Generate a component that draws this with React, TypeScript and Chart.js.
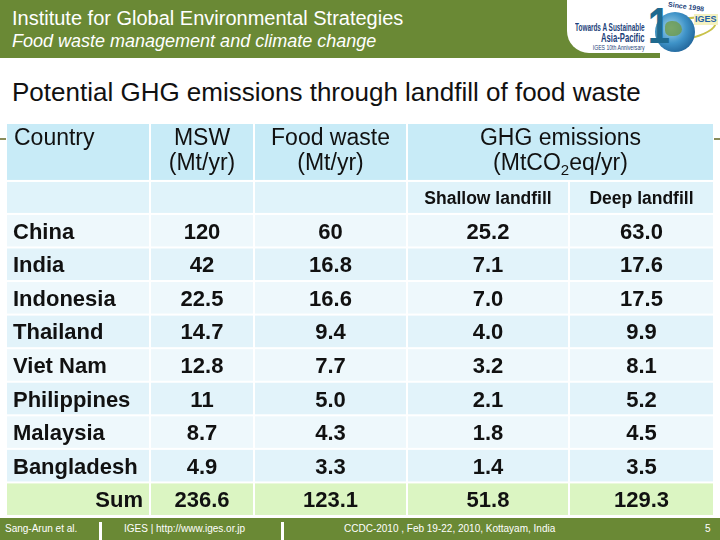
import React, { useEffect, useRef } from 'react';
import { Chart, registerables } from 'chart.js';

Chart.register(...registerables);

// ---- data ----
const countries = ['China', 'India', 'Indonesia', 'Thailand', 'Viet Nam', 'Philippines', 'Malaysia', 'Bangladesh'];
const msw = ['120', '42', '22.5', '14.7', '12.8', '11', '8.7', '4.9'];
const foodWaste = ['60', '16.8', '16.6', '9.4', '7.7', '5.0', '4.3', '3.3'];
const shallowLandfill = ['25.2', '7.1', '7.0', '4.0', '3.2', '2.1', '1.8', '1.4'];
const deepLandfill = ['63.0', '17.6', '17.5', '9.9', '8.1', '5.2', '4.5', '3.5'];
const sumLabel = 'Sum';
const sums = ['236.6', '123.1', '51.8', '129.3'];
const headerTop = ['Country', 'MSW', 'Food waste', 'GHG emissions'];
const headerUnits = ['', '(Mt/yr)', '(Mt/yr)', ''];
const subHeaders = ['', '', '', 'Shallow landfill', 'Deep landfill'];

// ---- layout (relative units) ----
const colWidths = [144, 104, 153, 162, 145];
const rowHeights = [58, 33, 33.6, 33.6, 33.6, 33.6, 33.6, 33.6, 33.6, 33.6, 33.6];

const FONT = "'Liberation Sans', Arial, sans-serif";
const GREEN = '#6a8935';

function cumulative(a: number[]) {
  const out = [0];
  a.forEach((v) => out.push(out[out.length - 1] + v));
  return out;
}

const tablePlugin = {
  id: 'tablePlugin',
  afterDraw(chart: any) {
    const { ctx } = chart;
    const xs = chart.scales.x;
    const ys = chart.scales.y;
    const ce = cumulative(colWidths);
    const re = cumulative(rowHeights);
    const X = (v: number) => xs.getPixelForValue(v);
    const Y = (v: number) => ys.getPixelForValue(v);
    const cell = (c0: number, c1: number, r: number, color: string) => {
      const l = X(ce[c0]) + 1;
      const rr = X(ce[c1]) - 1;
      const t = Y(re[r]) + 1;
      const b = Y(re[r + 1]) - 1;
      ctx.fillStyle = color;
      ctx.fillRect(l, t, rr - l, b - t);
    };
    const cx = (c0: number, c1: number) => (X(ce[c0]) + X(ce[c1])) / 2;
    const cy = (r: number) => (Y(re[r]) + Y(re[r + 1])) / 2;

    ctx.save();
    // header row 1
    cell(0, 1, 0, '#c8ebf7');
    cell(1, 2, 0, '#c8ebf7');
    cell(2, 3, 0, '#c8ebf7');
    cell(3, 5, 0, '#c8ebf7');
    // header row 2
    for (let c = 0; c < 5; c++) cell(c, c + 1, 1, '#e0f3fa');
    // data rows
    const cols = [msw, foodWaste, shallowLandfill, deepLandfill];
    countries.forEach((_, i) => {
      const color = i % 2 === 0 ? '#eef8fc' : '#e2f3fa';
      for (let c = 0; c < 5; c++) cell(c, c + 1, i + 2, color);
    });
    const sr = countries.length + 2;
    for (let c = 0; c < 5; c++) cell(c, c + 1, sr, '#dbf5c2');

    ctx.fillStyle = '#111';
    ctx.textBaseline = 'middle';
    // header texts
    const h0 = Y(re[0]);
    const h1 = Y(re[1]);
    const l1 = h0 + (h1 - h0) * 0.27;
    const l2 = h0 + (h1 - h0) * 0.71;
    const HF = `23px ${FONT}`;
    ctx.font = HF;
    ctx.textAlign = 'left';
    ctx.fillText(headerTop[0], X(ce[0]) + 8, l1);
    ctx.textAlign = 'center';
    ctx.fillText(headerTop[1], cx(1, 2), l1);
    ctx.fillText(headerUnits[1], cx(1, 2), l2);
    ctx.fillText(headerTop[2], cx(2, 3), l1);
    ctx.fillText(headerUnits[2], cx(2, 3), l2);
    ctx.fillText(headerTop[3], cx(3, 5), l1);
    // (MtCO2eq/yr) with subscript
    {
      const a = '(MtCO';
      const s = '2';
      const b = 'eq/yr)';
      ctx.font = HF;
      const wa = ctx.measureText(a).width;
      const wb = ctx.measureText(b).width;
      ctx.font = `15px ${FONT}`;
      const ws = ctx.measureText(s).width;
      const x0 = cx(3, 5) - (wa + ws + wb) / 2;
      ctx.textAlign = 'left';
      ctx.font = HF;
      ctx.fillText(a, x0, l2);
      ctx.font = `15px ${FONT}`;
      ctx.fillText(s, x0 + wa, l2 + 7);
      ctx.font = HF;
      ctx.fillText(b, x0 + wa + ws, l2);
    }
    // sub header
    ctx.font = `bold 17.5px ${FONT}`;
    ctx.textAlign = 'center';
    for (let c = 0; c < 5; c++) {
      if (subHeaders[c]) ctx.fillText(subHeaders[c], cx(c, c + 1), cy(1) + 2);
    }
    // data
    ctx.font = `bold 22px ${FONT}`;
    countries.forEach((name, i) => {
      const y = cy(i + 2) + 2;
      ctx.textAlign = 'left';
      ctx.fillText(name, X(ce[0]) + 7, y);
      ctx.textAlign = 'center';
      cols.forEach((col, c) => ctx.fillText(col[i], cx(c + 1, c + 2), y));
    });
    const ys2 = cy(sr) + 2;
    ctx.textAlign = 'right';
    ctx.fillText(sumLabel, X(ce[1]) - 7, ys2);
    ctx.textAlign = 'center';
    sums.forEach((v, c) => ctx.fillText(v, cx(c + 1, c + 2), ys2));
    ctx.restore();
  },
};

function TableChart() {
  const ref = useRef<HTMLCanvasElement>(null);
  useEffect(() => {
    if (!ref.current) return;
    const totalW = colWidths.reduce((a, b) => a + b, 0);
    const totalH = rowHeights.reduce((a, b) => a + b, 0);
    const chart = new Chart(ref.current, {
      type: 'scatter',
      data: { datasets: [{ data: [] }] },
      options: {
        animation: false,
        responsive: false,
        devicePixelRatio: 1,
        layout: { padding: { left: 6, right: 6, top: 5, bottom: 4 } },
        scales: {
          x: { type: 'linear', min: 0, max: totalW, display: false },
          y: { type: 'linear', min: 0, max: totalH, reverse: true, display: false },
        },
        plugins: { legend: { display: false }, tooltip: { enabled: false }, title: { display: false } },
      },
      plugins: [tablePlugin],
    });
    return () => chart.destroy();
  }, []);
  return (
    <canvas
      ref={ref}
      width={720}
      height={402}
      style={{ position: 'absolute', left: 0, top: 118, width: 720, height: 402 }}
    />
  );
}

function Logo() {
  const navy = '#1c3f7a';
  return (
    <div style={{ position: 'absolute', left: 567, top: 0, width: 153, height: 53, background: '#fff', borderBottomLeftRadius: 22, overflow: 'hidden' }}>
      <div style={{ position: 'absolute', right: 75, top: 23, color: navy, fontFamily: FONT, fontWeight: 'bold', whiteSpace: 'nowrap', textAlign: 'right', transform: 'scaleX(0.64)', transformOrigin: 'right top' }}>
        <div style={{ fontSize: 10, lineHeight: '10px' }}>Towards A Sustainable</div>
        <div style={{ fontSize: 12, lineHeight: '10px' }}>Asia-Pacific</div>
        <div style={{ fontSize: 8, lineHeight: '9px', fontWeight: 'normal' }}>IGES 10th Anniversary</div>
      </div>
      <div style={{ position: 'absolute', left: 88, top: 18, width: 62, height: 22, borderRadius: '50%', border: '2px solid #c9c24a', boxSizing: 'border-box', transform: 'rotate(-12deg)' }} />
      <div style={{ position: 'absolute', left: 88, top: 12, width: 40, height: 40, borderRadius: '50%', background: 'radial-gradient(circle at 40% 40%, #a6d6ea 0%, #3f93c8 45%, #1a5a8f 85%)' }}>
        <div style={{ position: 'absolute', left: 10, top: 9, width: 17, height: 15, borderRadius: '40% 60% 50% 40%', background: '#6e9a48', opacity: 0.8 }} />
      </div>
      <div style={{ position: 'absolute', left: 78, top: 1, color: '#1f6a8f', fontFamily: FONT, fontWeight: 'bold', fontSize: 50, lineHeight: '50px', transform: 'scaleX(0.8)' }}>1</div>
      <div style={{ position: 'absolute', left: 101, top: 3, color: navy, fontFamily: FONT, fontWeight: 'bold', fontSize: 7, transform: 'rotate(8deg)' }}>Since 1998</div>
      <div style={{ position: 'absolute', left: 127, top: 14, padding: '0 1px', background: '#f4f1c0', color: '#1f5fa8', fontFamily: FONT, fontWeight: 'bold', fontSize: 9, lineHeight: '11px' }}>IGES</div>
    </div>
  );
}

export default function App() {
  return (
    <div style={{ position: 'fixed', left: 0, top: 0, width: 720, height: 540, background: '#fff', overflow: 'hidden', fontFamily: FONT }}>
      <div style={{ position: 'absolute', left: 0, top: 0, width: 720, height: 58, background: GREEN }} />
      <div style={{ position: 'absolute', left: 660, top: 53, width: 60, height: 8, background: '#fff' }} />
      <Logo />
      <div style={{ position: 'absolute', left: 12, top: 6, color: '#fff', fontSize: 20, lineHeight: '24px', whiteSpace: 'nowrap' }}>
        Institute for Global Environmental Strategies
      </div>
      <div style={{ position: 'absolute', left: 12, top: 30, color: '#fff', fontSize: 18, fontStyle: 'italic', lineHeight: '22px', whiteSpace: 'nowrap' }}>
        Food waste management and climate change
      </div>
      <div style={{ position: 'absolute', left: 12, top: 77, color: '#111', fontSize: 26, lineHeight: '30px', whiteSpace: 'nowrap' }}>
        Potential GHG emissions through landfill of food waste
      </div>
      <div style={{ position: 'absolute', left: 0, top: 138, width: 6, height: 2, background: '#8a8b5a' }} />
      <div style={{ position: 'absolute', left: 714, top: 138, width: 6, height: 2, background: '#8a8b5a' }} />
      <TableChart />
      <div style={{ position: 'absolute', left: 0, top: 518, width: 720, height: 22, background: GREEN, color: '#fff', fontSize: 10, lineHeight: '22px', whiteSpace: 'nowrap' }}>
        <span style={{ position: 'absolute', left: 5 }}>Sang-Arun et al.</span>
        <div style={{ position: 'absolute', left: 99, top: 4, width: 3, height: 18, background: '#fff' }} />
        <span style={{ position: 'absolute', left: 124 }}>IGES | http://www.iges.or.jp</span>
        <div style={{ position: 'absolute', left: 281, top: 4, width: 3, height: 18, background: '#fff' }} />
        <span style={{ position: 'absolute', left: 344 }}>CCDC-2010 , Feb 19-22, 2010, Kottayam, India</span>
        <span style={{ position: 'absolute', left: 705 }}>5</span>
      </div>
    </div>
  );
}
